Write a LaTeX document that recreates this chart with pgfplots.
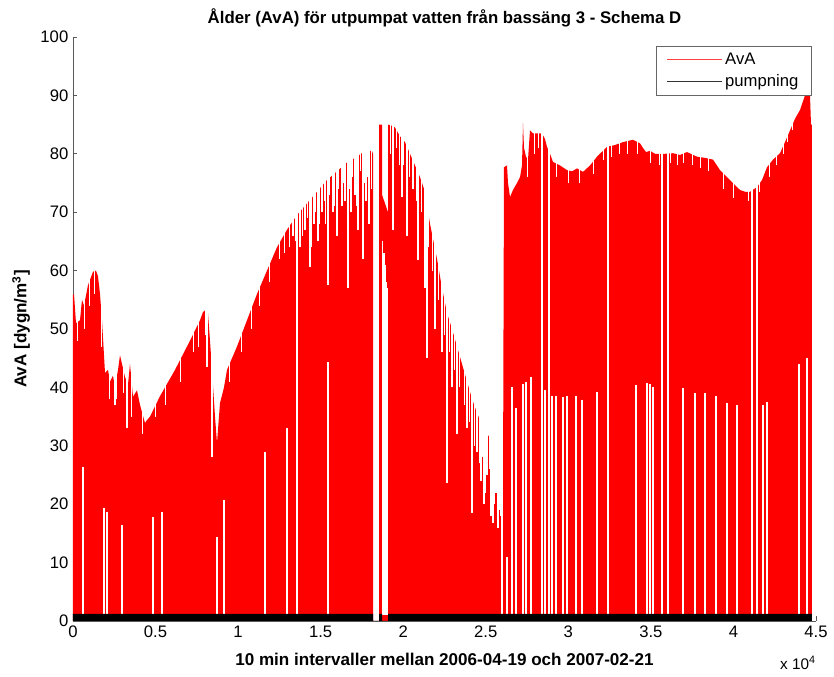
\documentclass[border=0pt]{standalone}
\usepackage{fontspec}
\setmainfont{Liberation Sans}
\usepackage{pgfplots}
\pgfplotsset{compat=1.18}
\usepackage{pgfplotstable}

% upper envelope of AvA (x in 10-min intervals)
\pgfplotstableread{
x y
0 55.8
61 56
182 51
424 51.5
545 55
666 54
908 57.5
1211 59.8
1393 60
1514 59
1635 56
1756 51.5
1938 42.5
2120 43
2241 41
2423 42
2544 40
2725 43
2847 45.5
2968 44
3149 41.8
3331 40.5
3452 44
3634 38.4
3876 39.5
4058 37
4361 33.9
4482 34.4
4664 35
5269 38.5
6178 43
7086 48
7692 51.5
7873 52.9
8055 53.3
8176 52.7
8297 48
8419 43
8600 35
8721 30.5
8903 37.3
9145 40
9327 43
9933 47
10538 51.5
11144 56
11750 60
12355 64
12961 67
13567 69.5
14172 71.5
14778 73.5
15384 75.5
15989 77
16595 78.5
17200 79.5
17685 80.5
18109 80.5
18170 80
18170 0
18533 0
18533 85
18715 85
18715 73
19078 70
19078 85
19320 84.8
19501 84.5
19804 83
20107 82
20410 80
20713 78
21016 76
21319 73.5
21622 68
22046 62
22349 57
22652 52.7
22955 50
23258 47
23561 44
23864 41
24167 38
24470 35.6
24773 33.5
25076 32
25379 31
25682 30.5
25861 28
26043 22
26103 77.7
26285 78
26346 75
26467 72.6
26649 73.8
26891 75
27073 76
27194 78
27254 85.2
27315 81
27436 79.5
27557 79
27678 84
27860 83.5
28405 83.5
28587 82.5
28708 81.2
28889 80
29071 78.6
29495 78
29919 77.2
30222 77
30525 77.5
30888 76.9
31312 78
31736 79.5
32342 81.2
32826 81.5
33311 82
33917 82.4
34341 81.8
34522 81
34704 80.3
34946 80.5
35249 80
35855 80
36339 80.1
36763 79.8
37187 80.3
37792 79.5
38277 79.3
38762 79
39186 77.2
39791 75.5
40397 73.8
40700 73.5
41003 73.5
41427 74.3
41730 75.5
42032 77.7
42396 79
42820 80.1
43122 82
43425 84
43728 86
44031 87.5
44334 90
44515 91
44636 90
44697 85
44757 85
44757 0
}\envelope

% white gaps in the dense AvA trace: x, lower end, upper end
\pgfplotstableread{
x lo hi
606 1 26.4
1878 1 19.3
2059 1 18.6
2544 37 100
2968 1 16.4
3271 33 100
4845 1 17.8
5390 1 18.6
8116 43.5 100
8419 28 100
8721 1 14.4
9145 1 20.7
11628 1 29
12961 1 33
13324 66 100
13567 1 100
13748 64 100
14051 67 100
14354 60.6 100
14596 68 100
14838 65 100
15081 70 100
15444 57.5 100
15444 1 44.3
15747 70 100
15989 66 100
16292 71 100
16474 72 100
16655 57 100
16837 70 100
17079 73 100
17261 67 100
17564 62 100
17746 72 100
17927 68 100
18760 1 65
18840 1 63
18920 1 61
19000 1 58
19050 1 57
19381 67 100
19926 72.6 100
20229 66 100
20592 74 100
20895 61.8 100
21319 57 100
21440 45 100
21925 50 100
22349 46 100
22652 23.6 100
22955 40 100
23258 32 100
23864 33 100
24167 18.5 100
24470 29 100
24711 24 100
24892 20 100
25076 25 100
25316 18 100
25437 16.8 100
25619 22 100
25740 16 100
25922 18 100
25982 1 100
26285 1 11
26588 1 40
26830 1 36.5
27254 1 40.5
27436 1 41
27739 1 41.8
28405 1 100
28587 1 39.5
28829 1 100
29011 1 38.6
29253 1 38.5
29677 1 38.4
29919 1 38.5
30464 1 38.5
30828 1 37.8
31736 1 39.2
32402 1 100
34098 1 40.4
34764 1 40.7
34946 1 40.5
35128 1 40
35673 1 100
36036 1 100
36945 1 39.9
37671 1 39
38277 1 39
38943 1 38.5
39609 1 37.3
40215 1 37
41124 1 100
41427 1 100
41790 1 37
42032 1 37.5
43970 1 44
44455 1 45
}\gaps

% fine notches along the top of the trace: x, lower end
\pgfplotstableread{
x lo
300 48
700 50
1000 54
1300 56
1700 47
2200 38
2650 38
3050 39
3550 35
4200 32
5000 35
5600 37
6500 41
7300 46
7600 47
8000 49
9500 41
10200 46
10800 50
11300 54
11900 58
12500 62
12800 63
13100 64
13450 65
13900 66
14200 69
14450 64
14700 70
14950 68
15200 72
15300 68
15550 73
15850 71
16100 74
16400 75
16750 74
16950 76
17150 71
17400 77
17650 75
17850 76
18050 74
19200 80
19600 81
19750 78
20000 78
20350 76
20800 72
21100 70
21550 64
21750 60
22150 55
22500 49
22800 46
23100 43
23400 40
23700 37
24000 34
24300 30
24600 27
24800 28
25000 22
25200 26
25500 20
25800 19
26000 15
27500 76
27950 80
28200 81
29300 76
30000 75
30700 75
31500 76.5
32100 79
32600 79.5
33100 80
33600 80
34200 80
35000 78.5
35500 78
36200 78.5
36600 78
37000 78.5
37500 78
38000 77.5
38500 77
39400 74
40000 72.5
40900 72
41600 73.5
42200 76
42600 78
43000 80
43300 82
43600 84
}\notches

% pumpning
\pgfplotstableread{
x y
0 1.2
18170 1.2
18170 0
18533 0
18533 1.2
18715 1.2
18715 0
19078 0
19078 1.2
44757 1.2
}\pump

\begin{document}
\begin{tikzpicture}
\useasboundingbox (-54.75pt,-42pt) rectangle (570.75pt,465.75pt);
\begin{axis}[
  name=ax,
  at={(0,0)}, anchor=south west,
  scale only axis, width=557.25pt, height=438pt,
  xmin=0, xmax=45000, ymin=0, ymax=100,
  axis lines=left,
  axis line style={-, draw=black!65, line width=0.6pt},
  tick align=inside, major tick length=4pt,
  tick style={black!65, line width=0.6pt},
  xtick={0,5000,...,45000},
  xticklabels={0,0.5,1,1.5,2,2.5,3,3.5,4,4.5},
  scaled x ticks=false,
  ytick={0,10,...,100},
  tick label style={font=\fontsize{12.5}{14}\selectfont},
  /pgf/number format/assume math mode=true,
  title={Ålder (AvA) för utpumpat vatten från bassäng 3 - Schema D},
  title style={font=\bfseries\fontsize{12.6}{14}\selectfont, at={(axis description cs:0.5,1)}, anchor=base, yshift=4pt, inner sep=0pt},
  xlabel={10 min intervaller mellan 2006-04-19 och 2007-02-21},
  xlabel style={font=\bfseries\fontsize{12.8}{15}\selectfont, at={(axis description cs:0.5,0)}, anchor=north, yshift=-24pt, inner sep=0pt},
  ylabel={AvA [dygn/m\textsuperscript{3}]},
  ylabel style={font=\bfseries\fontsize{12.8}{15}\selectfont, at={(axis description cs:-0.0574,0.5)}, anchor=south, inner sep=0pt},
  legend style={at={(0.9946,0.9846)}, anchor=north east, draw=black!60, fill=white,
    font=\fontsize{12.5}{14}\selectfont, row sep=2pt, inner xsep=8pt, inner ysep=3pt},
  legend cell align=left,
  legend image code/.code={\draw[#1] (0pt,0pt) -- (41pt,0pt);},
]
\addlegendimage{red!75, line width=1pt}
\addlegendentry{AvA}
\addlegendimage{black!80, line width=1pt}
\addlegendentry{pumpning}

\addplot[forget plot, fill=red, draw=none] table[x=x, y=y] {\envelope} \closedcycle;

\addplot[forget plot, draw=none, mark=none,
  error bars/.cd, y dir=plus, y explicit, error mark=none,
  error bar style={white, line width=0.7pt}]
  table[x=x, y=lo, y error expr=100-\thisrow{lo}] {\notches};

\addplot[forget plot, draw=none, mark=none,
  error bars/.cd, y dir=plus, y explicit, error mark=none,
  error bar style={white, line width=1.1pt}]
  table[x=x, y=lo, y error expr=\thisrow{hi}-\thisrow{lo}] {\gaps};

\addplot[forget plot, fill=black, draw=none] table[x=x, y=y] {\pump} \closedcycle;
\end{axis}
\node[anchor=north east, inner sep=0pt, font=\fontsize{11.5}{13}\selectfont] at ([yshift=-26pt]ax.south east) {x 10\textsuperscript{4}};
\end{tikzpicture}
\end{document}
